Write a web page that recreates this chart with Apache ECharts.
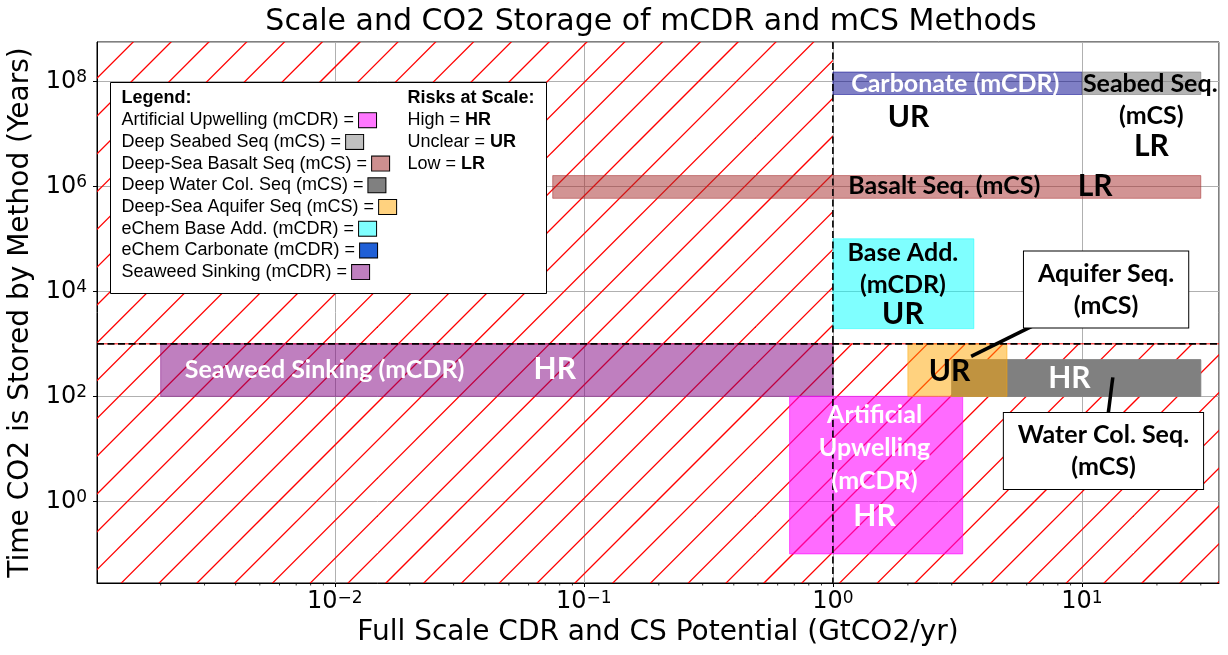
<!DOCTYPE html>
<html><head><meta charset="utf-8">
<script src="https://cdn.jsdelivr.net/npm/echarts@6/dist/echarts.min.js"></script>
<style>html,body{margin:0;padding:0;background:#fff}#c{width:1228px;height:655px}</style>
</head><body><div id="c"></div>
<script>
// ---------------- data ----------------
const X_MIN = 0.00111, X_MAX = 35.5;        // axis bounds (GtCO2/yr)
const Y_MIN = 0.0279,  Y_MAX = 5.6e8;       // axis bounds (years)
const X_TICK_EXP = [-2, -1, 0, 1];          // tick labels 10^n
const Y_TICK_EXP = [0, 2, 4, 6, 8];
const RISK_X = 1;       // scale threshold (GtCO2/yr)
const RISK_Y = 1000;    // storage-time threshold (years)

const methods = ['Carbonate (mCDR)', 'Seabed Seq. (mCS)', 'Basalt Seq. (mCS)', 'Base Add. (mCDR)',
                 'Seaweed Sinking (mCDR)', 'Artificial Upwelling (mCDR)', 'Water Col. Seq. (mCS)', 'Aquifer Seq. (mCS)'];
const xLow  = [1,     10,    0.075, 1,     0.002, 0.67, 3.0, 2.0];
const xHigh = [10,    30,    30,    3.68,  1,     3.32, 30,  5.0];
const yLow  = [5.6e7, 5.6e7, 5.9e5, 1950,  100,   0.1,  100, 100];
const yHigh = [1.5e8, 1.5e8, 1.6e6, 1.0e5, 1000,  100,  500, 1000];

const labelText = ['Carbonate (mCDR)', 'UR', 'Seabed Seq.', '(mCS)', 'LR', 'Basalt Seq. (mCS)', 'LR',
                   'Base Add.', '(mCDR)', 'UR', 'Seaweed Sinking (mCDR)', 'HR', 'UR', 'HR',
                   'Artificial', 'Upwelling', '(mCDR)', 'HR'];
const labelX = [3.1, 2.01, 18.8, 19, 19, 2.8, 11.3, 1.91, 1.91, 1.91, 0.0091, 0.0764, 2.94, 8.9, 1.47, 1.47, 1.47, 1.47];
const labelY = [9e7, 2.1e7, 9e7, 2.15e7, 5.8e6, 1e6, 1e6, 5.4e4, 1.34e4, 3600, 323, 323, 300, 224, 44.8, 10.4, 2.4, 0.52];

const annText  = ['Aquifer Seq.\n(mCS)', 'Water Col. Seq.\n(mCS)'];
const annTextX = [12.5, 12.2];
const annTextY = [1.08e4, 9.1];
const annTipX  = [3.59, 13.3];
const annTipY  = [578, 230];

const legendNames = ['Artificial Upwelling (mCDR)', 'Deep Seabed Seq (mCS)', 'Deep-Sea Basalt Seq (mCS)',
                     'Deep Water Col. Seq (mCS)', 'Deep-Sea Aquifer Seq (mCS)', 'eChem Base Add. (mCDR)',
                     'eChem Carbonate (mCDR)', 'Seaweed Sinking (mCDR)'];
const riskNames = ['High', 'Unclear', 'Low'];
const riskCodes = ['HR', 'UR', 'LR'];

// ---------------- styles ----------------
const barFill = ['rgba(0,0,139,0.5)', 'rgba(128,128,128,0.6)', 'rgba(165,42,42,0.5)', 'rgba(0,255,255,0.5)',
                 'rgba(128,0,128,0.5)', 'rgba(255,0,255,0.58)', 'rgba(128,128,128,1)', 'rgba(255,165,0,0.5)'];
const legendSwatch = ['#ff77ff', '#c0c0c0', '#cd8f8f', '#808080', '#ffd27f', '#7fffff', '#1f5fd6', '#bf7fbf'];
const labelColor = ['#fff', '#000', '#000', '#000', '#000', '#000', '#000', '#000', '#000', '#000',
                    '#fff', '#fff', '#000', '#fff', '#fff', '#fff', '#fff', '#fff'];
const BIG = {UR: 1, LR: 1, HR: 1};
const LBL_FONT = '"Lato", "Open Sans", sans-serif';
const LEG_FONT = '"Liberation Sans", Arial, sans-serif';
const AX_FONT = '"DejaVu Sans", sans-serif';

const LG = Math.log10;
function powLabel(exps) {
  return function (v) {
    const r = Math.round(v);
    if (Math.abs(v - r) > 1e-6 || exps.indexOf(r) < 0) return '';
    return '{b|10}{s|' + String(r).replace('-', '\u2212') + '}';
  };
}
const tickRich = {
  b: {fontSize: 24, fontFamily: AX_FONT, color: '#000'},
  s: {fontSize: 17, fontFamily: AX_FONT, color: '#000', verticalAlign: 'top'}
};

// hatch pattern (45 degree red lines)
const P = 37.8, NP = 10, T = Math.round(P * NP), PHASE = 24;
const hatch = document.createElement('canvas');
hatch.width = T; hatch.height = T;
(function () {
  const c = hatch.getContext('2d');
  c.strokeStyle = '#ff0000'; c.lineWidth = 1.3;
  for (let n = -2; n <= 2 * NP + 2; n++) {
    const k = PHASE + n * P;
    c.beginPath(); c.moveTo(k + 30, -30); c.lineTo(-30, k + 30); c.stroke();
  }
})();

function rectFrom(api, x0, x1, y0, y1) {
  const a = api.coord([x0, y1]);
  const b = api.coord([x1, y0]);
  return {x: a[0], y: a[1], width: b[0] - a[0], height: b[1] - a[1]};
}

const hatchData = [
  [LG(X_MIN), LG(RISK_X), LG(RISK_Y), LG(Y_MAX)],
  [LG(X_MIN), LG(X_MAX), LG(Y_MIN), LG(RISK_Y)]
];

const minorTicks = [];
for (let e = -3; e <= 1; e++) for (let k = 2; k <= 9; k++) {
  const v = k * Math.pow(10, e);
  if (v > X_MIN && v < X_MAX) minorTicks.push([LG(v), LG(Y_MIN)]);
}

const LZ = 100;
const chart = echarts.init(document.getElementById('c'), null, {renderer: 'canvas'});
chart.setOption({
  animation: false,
  backgroundColor: '#fff',
  title: {
    text: 'Scale and CO2 Storage of mCDR and mCS Methods',
    left: 646, top: 2, textAlign: 'center',
    textStyle: {fontFamily: AX_FONT, fontSize: 30, fontWeight: 'normal', color: '#000'}
  },
  grid: {left: 97, top: 42, width: 1122, height: 541, show: true, borderColor: '#000', borderWidth: 1,
         backgroundColor: 'transparent', containLabel: false, outerBoundsMode: 'none'},
  xAxis: {
    type: 'value', min: LG(X_MIN), max: LG(X_MAX), splitNumber: 5,
    axisLine: {show: true, onZero: false, lineStyle: {color: '#000', width: 1}},
    axisTick: {show: true, length: 4, lineStyle: {color: '#000', width: 1}},
    axisLabel: {formatter: powLabel(X_TICK_EXP), rich: tickRich, showMinLabel: false, showMaxLabel: false,
                color: '#000', fontSize: 24, fontFamily: AX_FONT, margin: 7},
    splitLine: {show: true, lineStyle: {color: '#b0b0b0', width: 1}},
    name: 'Full Scale CDR and CS Potential (GtCO2/yr)', nameLocation: 'middle', nameGap: 36,
    nameTextStyle: {fontSize: 28, fontFamily: AX_FONT, color: '#000'}
  },
  yAxis: {
    type: 'value', min: LG(Y_MIN), max: LG(Y_MAX), splitNumber: 5,
    axisLine: {show: true, onZero: false, lineStyle: {color: '#000', width: 1}},
    axisTick: {show: true, length: 4, lineStyle: {color: '#000', width: 1}},
    axisLabel: {formatter: powLabel(Y_TICK_EXP), rich: tickRich, showMinLabel: false, showMaxLabel: false,
                color: '#000', fontSize: 24, fontFamily: AX_FONT, margin: 10},
    splitLine: {show: true, lineStyle: {color: '#b0b0b0', width: 1}},
    name: 'Time CO2 is Stored by Method (Years)', nameLocation: 'middle', nameGap: 58, nameRotate: 90,
    nameTextStyle: {fontSize: 28, fontFamily: AX_FONT, color: '#000'}
  },
  series: [
    { // hatched high-risk regions
      type: 'custom', z: 1, silent: true, data: hatchData,
      renderItem: (params, api) => {
        const r = rectFrom(api, api.value(0), api.value(1), api.value(2), api.value(3));
        const children = [{type: 'rect', shape: r, style: {fill: {image: hatch, repeat: 'repeat'}}}];
        if (params.dataIndex === 1) {
          children.push({type: 'line', shape: {x1: r.x, y1: r.y, x2: r.x + r.width, y2: r.y},
                         style: {stroke: '#ff0000', lineWidth: 1}});
        }
        return {type: 'group', children};
      }
    },
    { // method rectangles
      type: 'custom', z: 2, silent: true,
      data: methods.map((m, i) => [LG(xLow[i]), LG(xHigh[i]), LG(yLow[i]), LG(yHigh[i])]),
      renderItem: (params, api) => {
        const i = params.dataIndex;
        return {type: 'rect', shape: rectFrom(api, api.value(0), api.value(1), api.value(2), api.value(3)),
                style: {fill: barFill[i], stroke: barFill[i], lineWidth: 1}};
      }
    },
    { // threshold dashed lines
      type: 'custom', z: 3, silent: true, data: [[0]],
      renderItem: (params, api) => {
        const v0 = api.coord([LG(RISK_X), LG(Y_MAX)]), v1 = api.coord([LG(RISK_X), LG(Y_MIN)]);
        const h0 = api.coord([LG(X_MIN), LG(RISK_Y)]), h1 = api.coord([LG(X_MAX), LG(RISK_Y)]);
        const st = {stroke: '#000', lineWidth: 1.6, lineDash: [7, 3.5]};
        return {type: 'group', children: [
          {type: 'line', shape: {x1: v0[0], y1: v0[1], x2: v1[0], y2: v1[1]}, style: st},
          {type: 'line', shape: {x1: h0[0], y1: h0[1], x2: h1[0], y2: h1[1]}, style: st}
        ]};
      }
    },
    { // labels inside rectangles
      type: 'custom', z: 4, silent: true,
      data: labelText.map((t, i) => [LG(labelX[i]), LG(labelY[i])]),
      renderItem: (params, api) => {
        const i = params.dataIndex;
        const p = api.coord([api.value(0), api.value(1)]);
        const big = BIG[labelText[i]];
        return {type: 'text', x: p[0], y: p[1], style: {
          text: labelText[i], fill: labelColor[i], align: 'center', verticalAlign: 'middle',
          font: 'bold ' + (big ? 30 : 25) + 'px ' + LBL_FONT}};
      }
    },
    { // call-out annotations
      type: 'custom', z: 5, silent: true,
      data: annText.map((t, i) => [LG(annTextX[i]), LG(annTextY[i]), LG(annTipX[i]), LG(annTipY[i])]),
      renderItem: (params, api) => {
        const i = params.dataIndex;
        const c = api.coord([api.value(0), api.value(1)]);
        const t = api.coord([api.value(2), api.value(3)]);
        return {type: 'group', children: [
          {type: 'line', shape: {x1: c[0], y1: c[1], x2: t[0], y2: t[1]}, style: {stroke: '#000', lineWidth: 3.5}},
          {type: 'text', x: c[0], y: c[1], style: {
            text: annText[i], fill: '#000', align: 'center', verticalAlign: 'middle',
            font: 'bold 25px ' + LBL_FONT, lineHeight: 32, backgroundColor: '#fff',
            borderColor: '#000', borderWidth: 1, padding: [6, 14]}}
        ]};
      }
    },
    { // minor x ticks (log decades 2..9)
      type: 'custom', z: 5, silent: true, data: minorTicks,
      renderItem: (params, api) => {
        const p = api.coord([api.value(0), api.value(1)]);
        return {type: 'line', shape: {x1: p[0], y1: p[1], x2: p[0], y2: p[1] + 2.5},
                style: {stroke: '#000', lineWidth: 0.8}};
      }
    }
  ],
  graphic: [{
    type: 'group', left: 110, top: 82, z: LZ,
    children: [
      {type: 'rect', z: LZ, shape: {x: 0, y: 0, width: 436, height: 211}, style: {fill: '#fff', stroke: '#000', lineWidth: 1}},
      {type: 'text', z: LZ + 1, x: 11, y: 16, style: {text: 'Legend:', font: 'bold 18px ' + LEG_FONT, fill: '#000', verticalAlign: 'middle'}},
      ...legendNames.map((n, i) => ({
        type: 'text', z: LZ + 1, x: 11, y: 16 + (i + 1) * 21.7,
        style: {text: n + ' = {sw|\u2002}', font: '18px ' + LEG_FONT, fill: '#000', verticalAlign: 'middle',
                rich: {sw: {width: 17, height: 14, backgroundColor: legendSwatch[i], borderColor: '#000', borderWidth: 1}}}
      })),
      {type: 'text', z: LZ + 1, x: 297, y: 16, style: {text: 'Risks at Scale:', font: 'bold 18px ' + LEG_FONT, fill: '#000', verticalAlign: 'middle'}},
      ...riskNames.map((n, i) => ({
        type: 'text', z: LZ + 1, x: 297, y: 16 + (i + 1) * 21.7,
        style: {text: n + ' = {b|' + riskCodes[i] + '}', font: '18px ' + LEG_FONT, fill: '#000', verticalAlign: 'middle',
                rich: {b: {font: 'bold 18px ' + LEG_FONT}}}
      }))
    ]
  }]
});
</script>
</body></html>
